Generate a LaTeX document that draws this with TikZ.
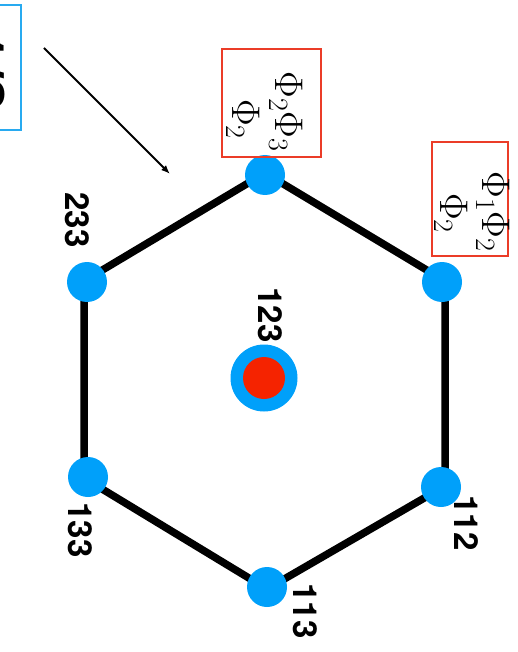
\documentclass[tikz,border=0pt]{standalone}
\usepackage{fontspec}
\newfontfamily\hv{TeX Gyre Heros}
\newfontfamily\lmr{Latin Modern Roman}
\usetikzlibrary{arrows.meta,backgrounds}
\definecolor{vblue}{RGB}{0,160,250}
\definecolor{vred}{RGB}{245,35,0}
\definecolor{boxred}{RGB}{235,60,40}
\definecolor{boxblue}{RGB}{40,170,240}
\newcommand\mysubs[1]{\raisebox{-6pt}{\fontsize{28}{30}\selectfont#1}}
\begin{document}
\begin{tikzpicture}[x=1pt,y=-1pt,
  vert/.style={circle,fill=vblue,minimum size=40pt,inner sep=0},
  lbl/.style={rotate=-90,inner sep=0,font=\hv\bfseries\fontsize{33}{40}\selectfont},
  phi/.style={rotate=-90,inner sep=0,anchor=base,font=\lmr\fontsize{40}{48}\selectfont},
  hexedge/.style={line width=7.5pt},
  redbox/.style={draw=boxred,line width=1.3pt,inner sep=0},
]
\path[use as bounding box] (0,0) rectangle (517,652);
\clip (0,0) rectangle (517,652);

% hexagon corners (line path)
\coordinate (h1) at (265,173);
\coordinate (h2) at (445,281);
\coordinate (h3) at (445,486);
\coordinate (h4) at (267,589);
\coordinate (h5) at (84,478);
\coordinate (h6) at (84,281);

% vertices
\node[vert] (v1) at (265,175) {};
\node[vert] (v2) at (442,282) {};
\node[vert] (v3) at (441,487) {};
\node[vert] (v4) at (267,587) {};
\node[vert] (v5) at (88,477) {};
\node[vert] (v6) at (87,282) {};
\node[circle,fill=vblue,minimum size=67pt,inner sep=0] (c) at (264,378) {};
\node[circle,fill=vred,minimum size=42pt,inner sep=0] (cr) at (264,378) {};

\begin{pgfonlayer}{background}
\draw[hexedge,line join=round] (h1) -- (h2) -- (h3) -- (h4) -- (h5) -- (h6) -- cycle;
\end{pgfonlayer}

% labels
\node[lbl] (l233) at (77,220) {233};
\node[lbl] (l123) at (270,315) {123};
\node[lbl] (l112) at (466,523) {112};
\node[lbl] (l133) at (80,530) {133};
\node[lbl] (l113) at (305,611) {113};

% red boxes
\node[redbox,minimum width=99pt,minimum height=108pt] (b1) at (271.5,103) {};
\node[phi] (p1a) at (275,111.5) {Φ\mysubs{2}Φ\mysubs{3}};
\node[phi] (p1b) at (232,119) {Φ\mysubs{2}};

\node[redbox,minimum width=76pt,minimum height=114pt] (b2) at (470,199) {};
\node[phi] (p2a) at (482,211.5) {Φ\mysubs{1}Φ\mysubs{2}};
\node[phi] (p2b) at (440,213) {Φ\mysubs{2}};

% blue box (cut off at left)
\node[draw=boxblue,line width=1.3pt,minimum width=81pt,minimum height=125pt,inner sep=0] (bb) at (-19.5,67.5) {};
\node[rotate=-90,inner sep=0,anchor=base,font=\hv\bfseries\fontsize{60}{70}\selectfont] (t13) at (-38,70) {1/3};

% arrow
\coordinate (a1) at (44,48);
\coordinate (a2) at (170,174);
\draw[line width=1.8pt,-{Latex[length=9pt,width=7pt]}] (a1) -- (a2);
\end{tikzpicture}
\end{document}
